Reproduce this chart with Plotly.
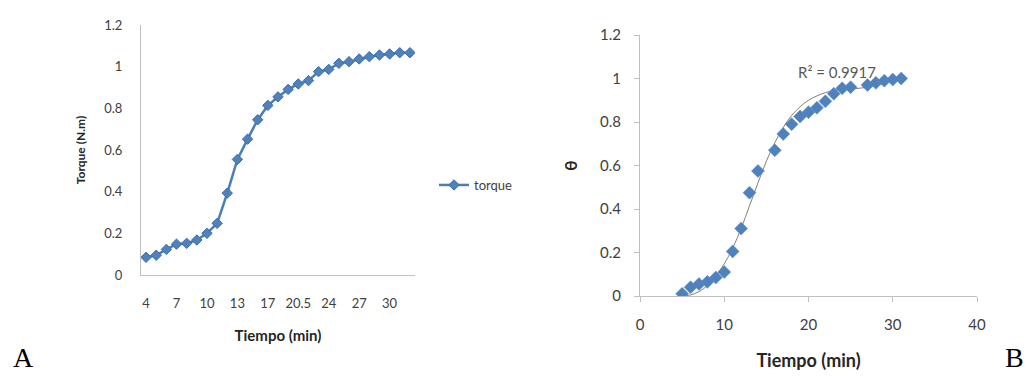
import plotly.graph_objects as go

W, H = 1027, 376

# ---- Panel A data (category axis) ----
torque_cats = ["4", "5", "6", "7", "8", "9", "10", "11", "12", "13", "14", "15.5", "17",
               "18", "19", "20.5", "22", "23", "24", "25", "26", "27", "28", "29", "30", "31", "32"]
torque_vals = [0.085, 0.095, 0.123, 0.148, 0.152, 0.168, 0.200, 0.248, 0.393, 0.555, 0.652,
               0.745, 0.814, 0.855, 0.891, 0.917, 0.933, 0.976, 0.987, 1.016, 1.024, 1.037,
               1.048, 1.056, 1.061, 1.067, 1.067]
torque_ticks = ["4", "7", "10", "13", "17", "20.5", "24", "27", "30"]

# ---- Panel B data ----
theta_t = [5, 6, 7, 8, 9, 10, 11, 12, 13, 14, 16, 17, 18, 19, 20, 21, 22, 23, 24, 25,
           27, 28, 29, 30, 31]
theta_vals = [0.01, 0.04, 0.055, 0.065, 0.085, 0.11, 0.205, 0.31, 0.475, 0.575, 0.67, 0.745,
              0.79, 0.825, 0.845, 0.865, 0.895, 0.93, 0.955, 0.96, 0.97, 0.98, 0.99, 0.995, 1.0]
fit_t = [5, 6, 7, 8, 9, 10, 11, 12, 13, 14, 15, 16, 17, 18, 19, 20, 21, 22, 23, 24, 25, 26,
         27, 28, 29, 30, 31]
fit_vals = [0.0, 0.005, 0.02, 0.048, 0.092, 0.148, 0.22, 0.31, 0.415, 0.52, 0.62, 0.705,
            0.775, 0.83, 0.87, 0.9, 0.92, 0.935, 0.945, 0.95, 0.952, 0.955, 0.96, 0.968,
            0.978, 0.99, 1.005]
r2_text = "R² = 0.9917"


def px_x(p):
    return p / W


def px_y(p):
    return 1 - p / H


BLUE = "#4F81BD"
BLUE_LINE = "#4A7EBB"
AXIS = "#BFBFBF"
TXT = "#404040"
FONT = "Lato"

fig = go.Figure()

fig.add_trace(go.Scatter(
    x=torque_cats, y=torque_vals, mode="lines+markers", name="torque",
    line=dict(color=BLUE_LINE, width=2.5),
    marker=dict(symbol="diamond", size=8, color=BLUE, line=dict(color="#3C6DA8", width=1)),
    xaxis="x", yaxis="y", showlegend=True,
))

fig.add_trace(go.Scatter(
    x=fit_t, y=fit_vals, mode="lines", line=dict(color="#8a7f74", width=1, shape="spline"),
    xaxis="x2", yaxis="y2", showlegend=False, hoverinfo="skip",
))
fig.add_trace(go.Scatter(
    x=theta_t, y=theta_vals, mode="markers",
    marker=dict(symbol="diamond", size=10, color=BLUE, line=dict(color="#5B8FCB", width=0.5)),
    xaxis="x2", yaxis="y2", showlegend=False,
))

fig.update_layout(
    width=W, height=H, margin=dict(l=0, r=0, t=0, b=0, autoexpand=False),
    paper_bgcolor="white", plot_bgcolor="white",
    font=dict(family=FONT, color=TXT),
    xaxis=dict(
        domain=[px_x(141), px_x(415)], anchor="y", type="category",
        categoryorder="array", categoryarray=torque_cats, range=[-0.5, len(torque_cats) - 0.5],
        tickvals=torque_ticks, ticktext=torque_ticks,
        showline=True, linecolor=AXIS, linewidth=1, showgrid=False, zeroline=False,
        ticks="", ticklabelstandoff=16, tickfont=dict(size=13, color=TXT),
        title=dict(text="<b>Tiempo (min)</b>", font=dict(size=15, color="#262626"), standoff=20),
    ),
    yaxis=dict(
        domain=[px_y(275), px_y(25)], anchor="x", range=[0, 1.2], dtick=0.2,
        showline=True, linecolor=AXIS, linewidth=1, showgrid=False, zeroline=False,
        ticks="", ticklabelstandoff=15, tickfont=dict(size=13, color=TXT),
        title=dict(text="<b>Torque (N.m)</b>", font=dict(size=12, color="#262626"), standoff=16),
    ),
    xaxis2=dict(
        domain=[px_x(640), px_x(977)], anchor="y2", range=[0, 40], dtick=10,
        showline=True, linecolor=AXIS, linewidth=1, showgrid=False, zeroline=False,
        ticks="outside", ticklen=5, tickcolor=AXIS, ticklabelstandoff=10,
        tickfont=dict(size=15, color=TXT),
        title=dict(text="<b>Tiempo (min)</b>", font=dict(size=18, color="#262626"), standoff=22),
    ),
    yaxis2=dict(
        domain=[px_y(296), px_y(35)], anchor="x2", range=[0, 1.2], dtick=0.2,
        showline=True, linecolor=AXIS, linewidth=1, showgrid=False, zeroline=False,
        ticks="outside", ticklen=5, tickcolor=AXIS, ticklabelstandoff=10,
        tickfont=dict(size=15, color=TXT),
        title=dict(text="<b>θ</b>", font=dict(size=17, color="#262626"), standoff=18),
    ),
    legend=dict(
        x=px_x(434), y=px_y(185), xanchor="left", yanchor="middle",
        font=dict(size=13, color=TXT), bgcolor="rgba(0,0,0,0)", itemwidth=30,
    ),
    annotations=[
        dict(text=r2_text, x=px_x(837), y=px_y(72), xref="paper", yref="paper",
             xanchor="center", yanchor="middle",
             showarrow=False, font=dict(size=15, color="#595959")),
        dict(text="A", x=px_x(23), y=px_y(357), xref="paper", yref="paper",
             xanchor="center", yanchor="middle",
             showarrow=False, font=dict(size=28, color="black", family="Liberation Serif")),
        dict(text="B", x=px_x(1014), y=px_y(357), xref="paper", yref="paper",
             xanchor="center", yanchor="middle",
             showarrow=False, font=dict(size=28, color="black", family="Liberation Serif")),
    ],
)

fig.write_html(
    "out.html",
    config={"displayModeBar": False},
    post_script="document.body.style.margin='0px';document.body.style.overflow='hidden';",
)
